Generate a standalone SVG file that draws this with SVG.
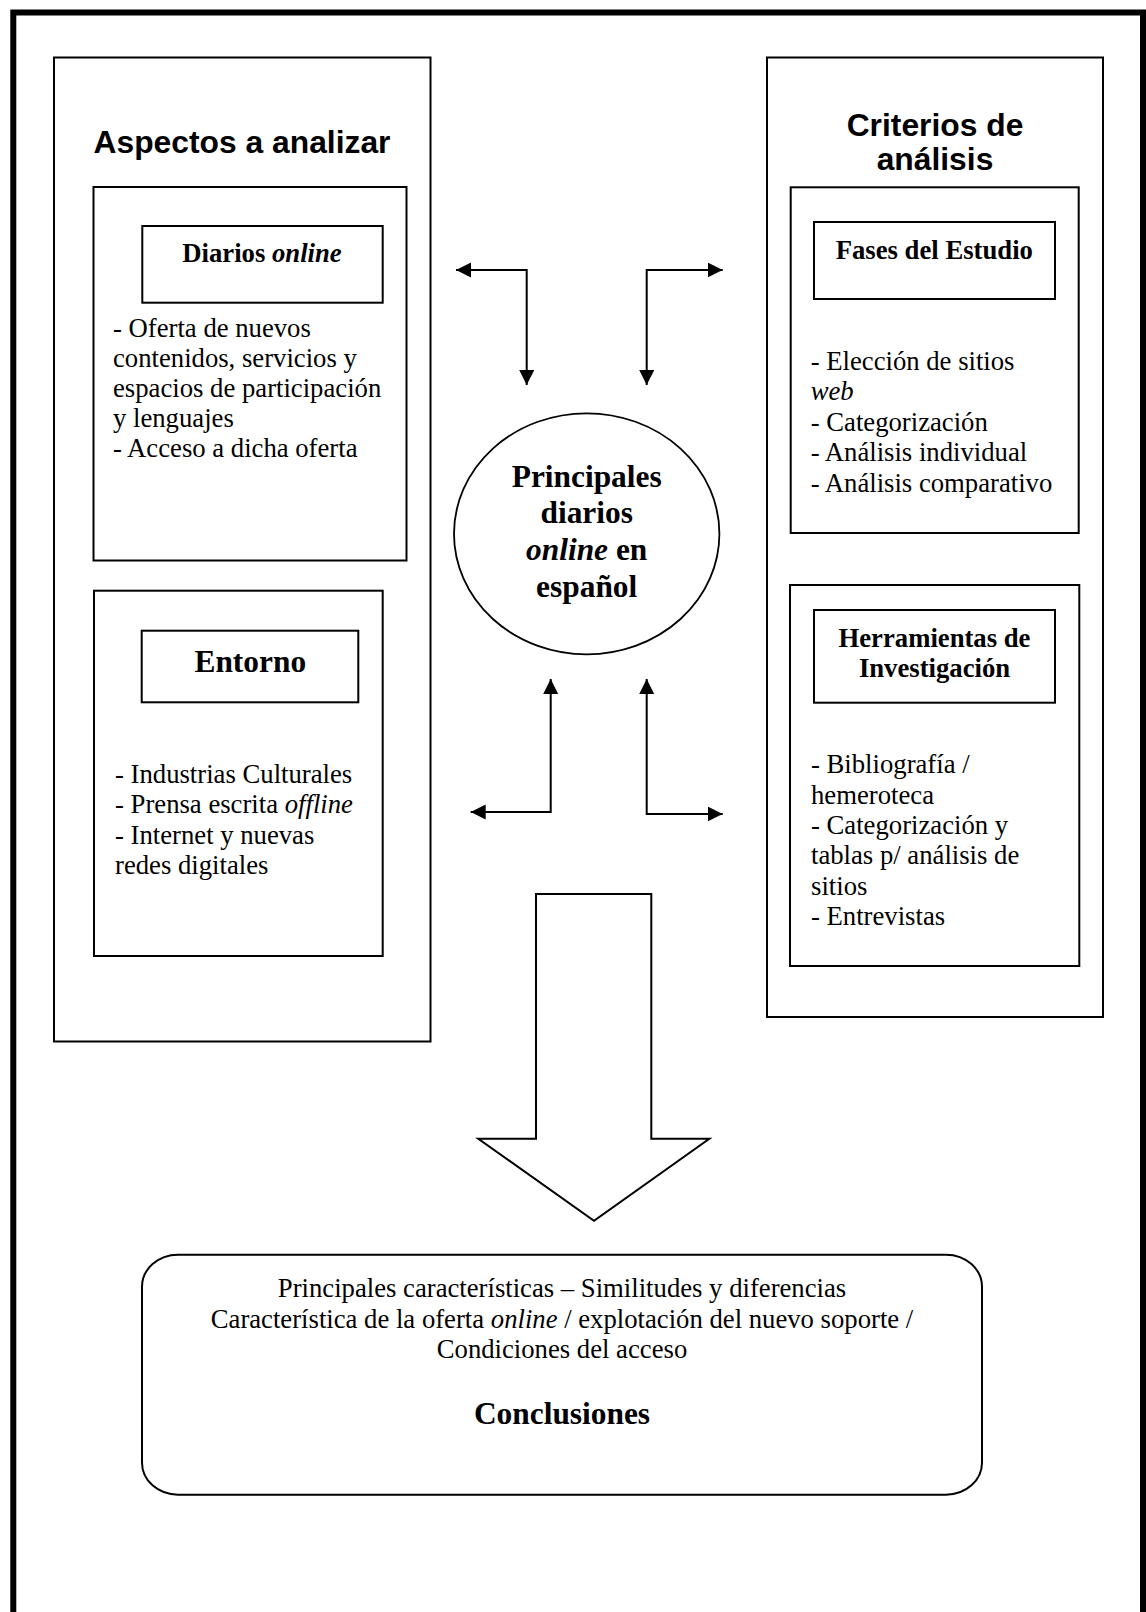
<svg xmlns="http://www.w3.org/2000/svg" width="1146" height="1612" viewBox="0 0 1146 1612">
<style>
.box{fill:none;stroke:#000;stroke-width:2}
.sans{font-family:"Liberation Sans",Arial,sans-serif;font-weight:bold;font-size:31.8px;fill:#000}
.serif{font-family:"Liberation Serif","Times New Roman",serif;font-size:26.7px;fill:#000}
.b{font-weight:bold}
.big{font-size:31.4px}
.mid{text-anchor:middle}
.conn{fill:none;stroke:#000;stroke-width:2}
</style>
<defs>
<marker id="ah" markerUnits="userSpaceOnUse" markerWidth="16" markerHeight="16" refX="15" refY="7.5" orient="auto-start-reverse">
<path d="M0,0 L15,7.5 L0,15 z" fill="#000"/>
</marker>
</defs>
<rect width="1146" height="1612" fill="#fff"/>
<path d="M13.3,1620 V12.5 H1143 V1620" fill="none" stroke="#000" stroke-width="6"/>

<g id="aspectos">
<rect class="box" x="54" y="57.5" width="376.5" height="984"/>
<text class="sans mid" x="242" y="153">Aspectos a analizar</text>
</g>
<g id="diarios">
<rect class="box" x="93.5" y="187" width="313" height="373.5"/>
<rect class="box" x="142.3" y="226" width="240.4" height="76.7"/>
<text class="serif b mid" x="262" y="261.7">Diarios <tspan font-style="italic">online</tspan></text>
<text class="serif" x="113">
<tspan x="113" y="336.7">- Oferta de nuevos</tspan>
<tspan x="113" y="366.9">contenidos, servicios y</tspan>
<tspan x="113" y="397">espacios de participación</tspan>
<tspan x="113" y="427">y lenguajes</tspan>
<tspan x="113" y="457">- Acceso a dicha oferta</tspan>
</text>
</g>
<g id="entorno">
<rect class="box" x="94" y="590.7" width="288.7" height="365.3"/>
<rect class="box" x="141.7" y="630.7" width="216.6" height="71.6"/>
<text class="serif b big mid" x="250.3" y="671.7">Entorno</text>
<text class="serif">
<tspan x="115" y="782.5">- Industrias Culturales</tspan>
<tspan x="115" y="813">- Prensa escrita <tspan font-style="italic">offline</tspan></tspan>
<tspan x="115" y="843.5">- Internet y nuevas</tspan>
<tspan x="115" y="874">redes digitales</tspan>
</text>
</g>
<g id="criterios">
<rect class="box" x="767" y="57.5" width="336" height="959.5"/>
<text class="sans mid" x="935" y="136">Criterios de</text>
<text class="sans mid" x="935" y="170.3">análisis</text>
</g>
<g id="fases">
<rect class="box" x="790.7" y="187.3" width="288" height="345.7"/>
<rect class="box" x="814" y="222" width="241" height="77"/>
<text class="serif b mid" x="934.3" y="259">Fases del Estudio</text>
<text class="serif">
<tspan x="810.7" y="370">- Elección de sitios</tspan>
<tspan x="810.7" y="400.3" font-style="italic">web</tspan>
<tspan x="810.7" y="430.7">- Categorización</tspan>
<tspan x="810.7" y="461">- Análisis individual</tspan>
<tspan x="810.7" y="491.7">- Análisis comparativo</tspan>
</text>
</g>
<g id="herramientas">
<rect class="box" x="790" y="585" width="289.3" height="381"/>
<rect class="box" x="814" y="610" width="241" height="92.7"/>
<text class="serif b mid" x="934.5" y="647.3">Herramientas de</text>
<text class="serif b mid" x="934.5" y="676.7">Investigación</text>
<text class="serif">
<tspan x="811" y="773.3">- Bibliografía /</tspan>
<tspan x="811" y="803.7">hemeroteca</tspan>
<tspan x="811" y="834">- Categorización y</tspan>
<tspan x="811" y="864.3">tablas p/ análisis de</tspan>
<tspan x="811" y="894.6">sitios</tspan>
<tspan x="811" y="925">- Entrevistas</tspan>
</text>
</g>
<g id="principales">
<ellipse cx="586.7" cy="533.8" rx="132.7" ry="120.5" fill="none" stroke="#000" stroke-width="1.8"/>
<text class="serif b big mid" x="586.7" y="486.7">Principales</text>
<text class="serif b big mid" x="586.7" y="523.3">diarios</text>
<text class="serif b big mid" x="586.7" y="560"><tspan font-style="italic">online</tspan> en</text>
<text class="serif b big mid" x="586.7" y="596.7">español</text>
</g>
<g id="conclusiones">
<rect class="box" x="142" y="1254.7" width="840" height="240" rx="36" ry="32"/>
<text class="serif mid" x="562" y="1297">Principales características – Similitudes y diferencias</text>
<text class="serif mid" x="562" y="1327.7">Característica de la oferta <tspan font-style="italic">online</tspan> / explotación del nuevo soporte /</text>
<text class="serif mid" x="562" y="1358.2">Condiciones del acceso</text>
<text class="serif b big mid" x="562" y="1424.4">Conclusiones</text>
</g>
<g id="connectors">
<polyline class="conn" points="456,270 526.7,270 526.7,385" marker-start="url(#ah)" marker-end="url(#ah)"/>
<polyline class="conn" points="722.7,270 646.7,270 646.7,385" marker-start="url(#ah)" marker-end="url(#ah)"/>
<polyline class="conn" points="550.7,679 550.7,812 470.7,812" marker-start="url(#ah)" marker-end="url(#ah)"/>
<polyline class="conn" points="646.7,679 646.7,814 722.7,814" marker-start="url(#ah)" marker-end="url(#ah)"/>
<polygon class="box" points="536,894 651.3,894 651.3,1138.7 709.3,1138.7 594,1220.7 478.3,1138.7 536,1138.7"/>
</g>
</svg>
